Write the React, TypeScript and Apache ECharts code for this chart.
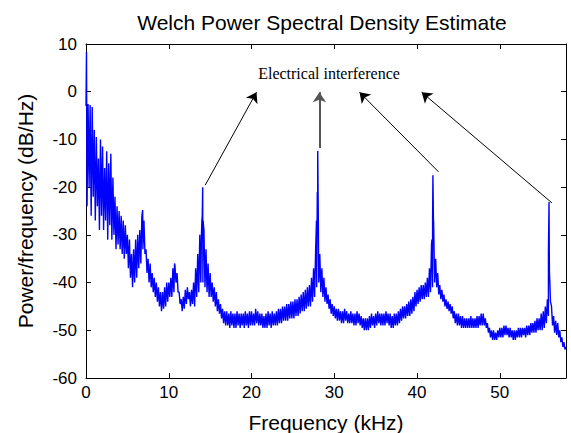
import React, { useEffect, useRef } from "react";
import * as echarts from "echarts";

// Frequency step (kHz) of the envelope readings below
const STEP = 0.25;

// Upper envelope of the PSD trace (dB/Hz), one value every 0.25 kHz from 0 to 58 kHz
const upper = [
  -3.0, -2.6, -2.8, -3.2,
  -8, -9.5, -14, -10,
  -11.5, -16, -12.5, -15,
  -13, -18, -22, -24,
  -25, -26, -27, -28,
  -30, -31, -34, -33,
  -31, -30, -29, -26,
  -27, -33, -35, -36,
  -38, -39, -40, -41,
  -42, -42, -41, -40,
  -40, -39, -37, -36.5,
  -38, -42, -43.5, -43,
  -41.5, -41, -42, -41.5,
  -40, -37, -34, -30,
  -27, -29, -33, -36,
  -38, -40, -41, -42,
  -43.5, -44.5, -45.5, -46,
  -46, -46.5, -46, -46.5,
  -46.5, -46, -46.5, -46.5,
  -46.5, -46, -46.5, -46,
  -46, -46.5, -45.5, -46,
  -46.5, -46.5, -47, -46.5,
  -46, -46.5, -46, -46.5,
  -46, -45.5, -45.5, -45,
  -45, -44.5, -44.5, -44,
  -44, -43.5, -43.5, -43,
  -42.5, -42, -41.5, -41,
  -40.5, -39, -37, -33,
  -30, -34, -37, -39,
  -41, -42.5, -43.5, -44.5,
  -45, -45.5, -45.5, -46,
  -46, -45.5, -46, -46.5,
  -46, -46.5, -46.5, -46,
  -46.5, -47, -47.5, -47.5,
  -47.5, -47, -46.5, -47,
  -46.5, -46, -46.5, -46.5,
  -46.5, -46, -46.5, -46.5,
  -47, -46.5, -46.5, -46,
  -45.5, -45, -45, -44.5,
  -44, -43.5, -43, -42,
  -41.5, -41, -40.5, -40.5,
  -40, -39, -37, -32,
  -30, -35, -38, -40.5,
  -41.5, -42.5, -43.5, -44,
  -44.5, -45, -46, -46.5,
  -46.5, -47, -47, -47.5,
  -47.5, -47.5, -47, -47.5,
  -47.5, -47, -47, -46.5,
  -46.5, -47.5, -48.5, -49.5,
  -50, -50, -50.5, -50,
  -49.5, -49.5, -49, -49,
  -49.5, -49.5, -50, -50,
  -50, -49.5, -49.5, -49.5,
  -49.5, -49, -49, -48.5,
  -48.5, -48, -47.5, -47.5,
  -46.5, -46, -45, -43.5,
  -38, -45, -47, -48,
  -48.5, -50, -51.5, -52.5,
  -53.5,
];

// Lower envelope of the PSD trace (dB/Hz), same frequencies (offset by half a step)
const lower = [
  -24, -20, -26, -22,
  -27, -24, -29, -26,
  -29, -27, -31, -28,
  -31, -30, -33, -32,
  -33, -34, -35, -34,
  -37, -39, -41, -40,
  -39, -37, -36, -33,
  -34, -38, -40, -41,
  -42, -43, -44, -45,
  -46, -45.5, -45, -44,
  -43, -43, -42, -40,
  -42, -44.5, -46, -45.5,
  -44.5, -43.5, -45, -44.5,
  -45, -43, -42, -40,
  -40, -41, -42, -43,
  -43, -44, -45, -46,
  -46.5, -47.5, -48.5, -49,
  -49, -49.5, -49, -49.5,
  -49.5, -49, -49.5, -49,
  -49.5, -49, -49.5, -49,
  -49, -49, -48.5, -49,
  -49, -49.5, -49.5, -49.5,
  -49, -49.5, -49, -49,
  -49, -48.5, -48.5, -48,
  -48, -48, -47.5, -47.5,
  -47.5, -47, -47, -46.5,
  -46, -46, -45.5, -45,
  -45, -44, -43, -41,
  -40, -42, -43, -44,
  -44.5, -45.5, -46.5, -47,
  -47.5, -48, -48, -48.5,
  -48.5, -48, -48.5, -48.5,
  -48.5, -49, -49, -48.5,
  -49, -49.5, -50, -50,
  -50, -49.5, -49, -49.5,
  -49, -48.5, -49, -49,
  -49, -48.5, -49, -49.5,
  -49.5, -49, -49, -48.5,
  -48, -47.5, -47.5, -47,
  -47, -46.5, -46, -45,
  -44.5, -44, -43.5, -43.5,
  -43, -43, -42, -41,
  -40, -41, -42.5, -43.5,
  -44, -45, -45.5, -46,
  -46.5, -47.5, -48.5, -49,
  -49, -49.5, -49.5, -49.5,
  -49.5, -49.5, -49.5, -49.5,
  -49.5, -49.5, -49, -49,
  -49, -49.5, -50.5, -51.5,
  -52, -52, -52, -51.5,
  -51.5, -51.5, -51, -51,
  -51.5, -51.5, -52, -52,
  -51.5, -51.5, -51.5, -51,
  -51.5, -51, -51, -50.5,
  -50.5, -50.5, -50, -50,
  -50, -49.5, -48.5, -47,
  -44, -49, -50.5, -51,
  -51.5, -52.5, -53.5, -54,
  -54.5,
];

// Narrow spectral spikes (kHz, dB/Hz)
const spikeFreq = [0.06, 6.85, 10.7, 13.95, 14.05, 14.1, 14.15, 27.85, 27.95, 28.0, 28.08, 41.8, 41.88, 41.92, 42.0, 55.88, 55.95, 55.98, 56.05];
const spikeVal = [8.3, -24.8, -36, -30, -26, -20, -27, -27, -21, -12.4, -28, -31, -27, -17.5, -27, -33, -23.1, -34, -40];

// Annotation arrows: tail and head in data coordinates (kHz, dB/Hz)
const arrowTail = [[14.4, -19.6], [28.2, -11.8], [42.6, -16.8], [56.3, -23.3]];
const arrowHead = [[20.6, -0.1], [28.2, -0.1], [33.05, -0.1], [40.56, -0.1]];
const arrowColor = ["#000", "#555", "#000", "#000"];
const arrowWidth = [1, 2, 1, 1];

const X_MIN = 0, X_MAX = 58, X_INT = 10;
const Y_MIN = -60, Y_MAX = 10, Y_INT = 10;

const TITLE = "Welch Power Spectral Density Estimate";
const X_NAME = "Frequency (kHz)";
const Y_NAME = "Power/frequency (dB/Hz)";
const NOTE = "Electrical interference";

const SANS = "'Liberation Sans', Arial, Helvetica, sans-serif";
const SERIF = "'Liberation Serif', 'Times New Roman', serif";

export default function App() {
  const ref = useRef<HTMLDivElement>(null);

  useEffect(() => {
    document.body.style.margin = "0";
    if (!ref.current) return;
    const chart = echarts.init(ref.current, null, { renderer: "svg" });

    const pts: number[][] = [];
    upper.forEach((v, i) => {
      pts.push([i * STEP, v]);
      if (i < lower.length && i * STEP + STEP / 2 <= X_MAX) pts.push([i * STEP + STEP / 2, lower[i]]);
    });
    spikeFreq.forEach((f, i) => pts.push([f, spikeVal[i]]));
    pts.sort((a, b) => a[0] - b[0]);

    const markData = arrowTail.map((t, i) => [
      { coord: t, lineStyle: { color: arrowColor[i], width: arrowWidth[i], type: "solid" } },
      { coord: arrowHead[i], lineStyle: { color: arrowColor[i], width: arrowWidth[i], type: "solid" } },
    ]);

    const baseAxisLine = { show: true, onZero: false, lineStyle: { color: "#000", width: 1 } };
    const tick = { show: true, inside: true, length: 5, lineStyle: { color: "#000", width: 1 } };
    const labelStyle = { color: "#000", fontSize: 17, fontFamily: SANS };

    chart.setOption({
      animation: false,
      backgroundColor: "#fff",
      title: {
        text: TITLE,
        left: 317,
        top: 7,
        textAlign: "center",
        textStyle: { fontFamily: SANS, fontSize: 21, fontWeight: "normal", color: "#000" },
      },
      grid: { left: 86, right: 5, top: 44, bottom: 55, containLabel: false, outerBoundsMode: "none" },
      xAxis: [
        {
          type: "value",
          min: X_MIN,
          max: X_MAX,
          interval: X_INT,
          position: "bottom",
          axisLine: baseAxisLine,
          axisTick: tick,
          axisLabel: { ...labelStyle, margin: 6, showMaxLabel: false },
          splitLine: { show: false },
          name: X_NAME,
          nameLocation: "middle",
          nameGap: 34,
          nameTextStyle: { fontFamily: SANS, fontSize: 21, color: "#000" },
        },
        {
          type: "value",
          min: X_MIN,
          max: X_MAX,
          interval: X_INT,
          position: "top",
          axisLine: baseAxisLine,
          axisTick: tick,
          axisLabel: { show: false },
          splitLine: { show: false },
        },
      ],
      yAxis: [
        {
          type: "value",
          min: Y_MIN,
          max: Y_MAX,
          interval: Y_INT,
          position: "left",
          axisLine: baseAxisLine,
          axisTick: tick,
          axisLabel: { ...labelStyle, margin: 9 },
          splitLine: { show: false },
          name: Y_NAME,
          nameLocation: "middle",
          nameGap: 50,
          nameRotate: 90,
          nameTextStyle: { fontFamily: SANS, fontSize: 21, color: "#000" },
        },
        {
          type: "value",
          min: Y_MIN,
          max: Y_MAX,
          interval: Y_INT,
          position: "right",
          axisLine: baseAxisLine,
          axisTick: tick,
          axisLabel: { show: false },
          splitLine: { show: false },
        },
      ],
      graphic: [
        {
          type: "text",
          x: 329,
          y: 73,
          style: {
            text: NOTE,
            fill: "#000",
            font: `16px ${SERIF}`,
            textAlign: "center",
            textVerticalAlign: "middle",
          },
          silent: true,
        },
      ],
      series: [
        {
          type: "line",
          data: pts,
          showSymbol: false,
          symbol: "none",
          xAxisIndex: 0,
          yAxisIndex: 0,
          lineStyle: { color: "#0000ff", width: 1.4 },
          itemStyle: { color: "#0000ff" },
          silent: true,
          clip: true,
          markLine: {
            silent: true,
            symbol: ["none", "arrow"],
            symbolSize: 10,
            label: { show: false },
            emphasis: { disabled: true },
            data: markData,
          },
        },
      ],
    });

    return () => chart.dispose();
  }, []);

  return <div ref={ref} style={{ width: 571, height: 433 }} />;
}
